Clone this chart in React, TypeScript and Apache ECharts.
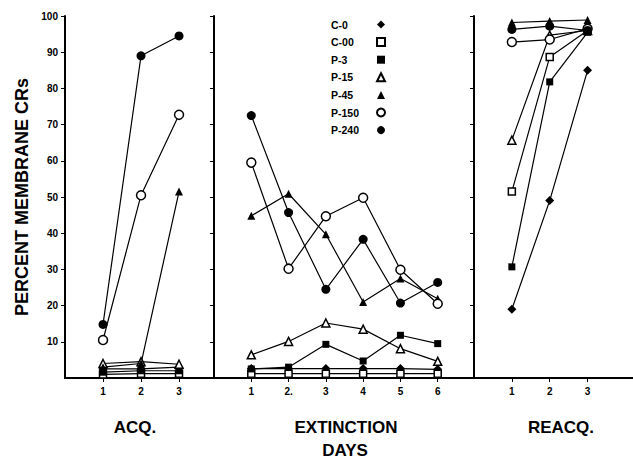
import React, { useEffect, useRef } from "react";
import * as echarts from "echarts";

const acqDays = [1, 2, 3];
const extDays = [1, 2, 3, 4, 5, 6];
const reacqDays = [1, 2, 3];
const extDayLabels = ["1", "2.", "3", "4", "5", "6"];
const yTicks = [10, 20, 30, 40, 50, 60, 70, 80, 90, 100];

const groupNames = ["C-0", "C-00", "P-3", "P-15", "P-45", "P-150", "P-240"];
const groupSymbols = ["diamond", "rect", "rect", "triangle", "triangle", "circle", "circle"];
const groupFilled = [true, false, true, false, true, false, true];

const acqC0 = [2.5, 2.5, 3];
const acqC00 = [1, 1.2, 1.2];
const acqP3 = [1.6, 2, 2];
const acqP15 = [4, 4.5, 3.8];
const acqP45 = [3, 4, 51.5];
const acqP150 = [10.5, 50.5, 72.7];
const acqP240 = [14.8, 89, 94.5];

const extC0 = [2.6, 2.6, 2.6, 2.6, 2.6, 2.4];
const extC00 = [1.2, 1.2, 1.2, 1.2, 1.2, 1.2];
const extP3 = [2.5, 3, 9.3, 4.7, 11.8, 9.5];
const extP15 = [6.4, 10.1, 15.2, 13.5, 8.1, 4.6];
const extP45 = [44.8, 50.9, 39.7, 21, 27.5, 21.9];
const extP150 = [59.5, 30.2, 44.7, 49.8, 29.9, 20.5];
const extP240 = [72.5, 45.7, 24.5, 38.3, 20.7, 26.4];

const reacqC0 = [19, 49, 85];
const reacqC00 = [51.5, 88.7, 96];
const reacqP3 = [30.7, 81.8, 95.5];
const reacqP15 = [65.7, 94.7, 96];
const reacqP45 = [98.2, 98.6, 98.9];
const reacqP150 = [92.8, 93.5, 96.5];
const reacqP240 = [96.3, 97.2, 96];

const acqValues = [acqC0, acqC00, acqP3, acqP15, acqP45, acqP150, acqP240];
const extValues = [extC0, extC00, extP3, extP15, extP45, extP150, extP240];
const reacqValues = [reacqC0, reacqC00, reacqP3, reacqP15, reacqP45, reacqP150, reacqP240];

const FONT = "Liberation Sans";

export default function App() {
  const ref = useRef<HTMLDivElement>(null);
  useEffect(() => {
    if (!ref.current) return;
    const chart = echarts.init(ref.current, null, { renderer: "svg" });

    const grids = [
      { left: 65, top: 16, width: 149, height: 362 },
      { left: 214, top: 16, width: 261, height: 362 },
      { left: 474, top: 16, width: 159, height: 362 },
    ];
    const xMax = [3.92, 7, 4.2];
    const xDays = [acqDays, extDays, reacqDays];

    const xAxes = grids.map((_, i) => ({
      type: "value",
      gridIndex: i,
      min: 0,
      max: xMax[i],
      interval: 1,
      splitLine: { show: false },
      axisLine: { show: true, onZero: false, lineStyle: { color: "#000", width: 2 } },
      axisTick: {
        show: true,
        customValues: xDays[i],
        length: 4,
        lineStyle: { color: "#000", width: 1 },
      },
      axisLabel: {
        customValues: xDays[i],
        margin: 8,
        color: "#000",
        fontFamily: FONT,
        fontWeight: "bold",
        fontSize: 10,
        formatter: (v: number) => (i === 1 ? extDayLabels[v - 1] : String(v)),
      },
    }));

    const yAxes = grids.map((_, i) => ({
      type: "value",
      gridIndex: i,
      min: 0,
      max: 100,
      interval: 10,
      splitLine: { show: false },
      axisLine: { show: true, lineStyle: { color: "#000", width: 2 } },
      axisTick: { show: true, customValues: yTicks, length: 4, lineStyle: { color: "#000", width: 1 } },
      axisLabel: {
        show: i === 0,
        customValues: yTicks,
        margin: 7,
        color: "#000",
        fontFamily: FONT,
        fontWeight: "bold",
        fontSize: 10,
      },
    }));

    const series: any[] = [];
    const panels = [
      { days: acqDays, vals: acqValues },
      { days: extDays, vals: extValues },
      { days: reacqDays, vals: reacqValues },
    ];
    panels.forEach((p, pi) => {
      groupNames.forEach((name, gi) => {
        const sym = groupSymbols[gi];
        series.push({
          type: "line",
          name,
          xAxisIndex: pi,
          yAxisIndex: pi,
          data: p.days.map((d, k) => [d, p.vals[gi][k]]),
          symbol: sym,
          symbolSize: sym === "rect" ? 7 : sym === "triangle" ? 8 : 9,
          showAllSymbol: true,
          lineStyle: { color: "#000", width: 1.2 },
          itemStyle: {
            color: groupFilled[gi] ? "#000" : "#fff",
            borderColor: "#000",
            borderWidth: groupFilled[gi] ? 0 : 1.5,
          },
          emphasis: { disabled: true },
          z: 3,
        });
      });
    });

    const textStyle = (size: number) => ({
      font: `bold ${size}px "${FONT}"`,
      fill: "#000",
      textAlign: "center",
      textVerticalAlign: "middle",
    });

    chart.setOption({
      animation: false,
      backgroundColor: "#fff",
      grid: grids,
      xAxis: xAxes,
      yAxis: yAxes,
      legend: {
        orient: "vertical",
        left: 326,
        top: 14,
        align: "right",
        itemWidth: 8,
        itemHeight: 8,
        itemGap: 6.6,
        selectedMode: false,
        formatter: "{a|{name}}",
        textStyle: {
          color: "#000",
          fontFamily: FONT,
          fontWeight: "bold",
          fontSize: 10.5,
          rich: {
            a: {
              width: 41,
              height: 12,
              align: "left",
              color: "#000",
              fontFamily: FONT,
              fontWeight: "bold",
              fontSize: 10.5,
            },
          },
        },
        data: groupNames.map((n, i) => ({ name: n, icon: groupSymbols[i] })),
      },
      graphic: [
        {
          type: "text",
          x: 22,
          y: 197,
          rotation: Math.PI / 2,
          style: { text: "PERCENT MEMBRANE CRs", ...textStyle(18) },
        },
        { type: "text", x: 135, y: 427, style: { text: "ACQ.", ...textStyle(17) } },
        { type: "text", x: 346, y: 427, style: { text: "EXTINCTION", ...textStyle(17) } },
        { type: "text", x: 345, y: 450, style: { text: "DAYS", ...textStyle(17) } },
        { type: "text", x: 561, y: 427, style: { text: "REACQ.", ...textStyle(17) } },
      ],
      series,
    });
    return () => chart.dispose();
  }, []);
  return (
    <div
      ref={ref}
      style={{ position: "fixed", left: 0, top: 0, width: 633, height: 458 }}
    />
  );
}
